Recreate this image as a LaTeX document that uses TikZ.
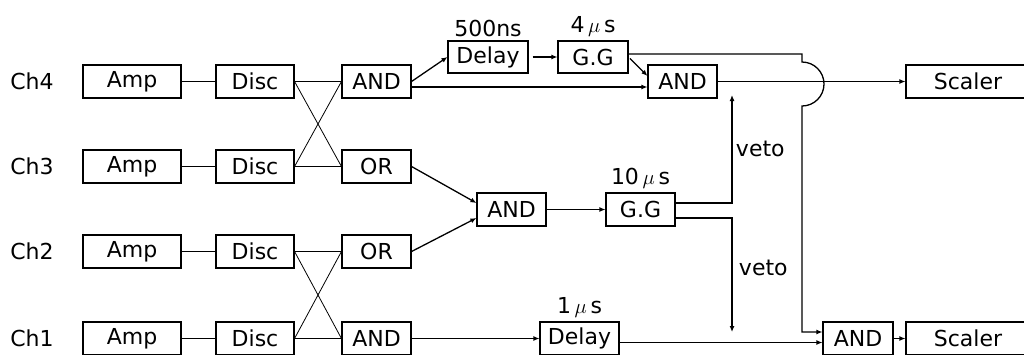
\documentclass[tikz,border=0pt]{standalone}
\usepackage{fontspec}
\setmainfont{DejaVu Sans}
\usetikzlibrary{arrows.meta,calc,positioning}

\begin{document}
\begin{tikzpicture}[x=1pt,y=-1pt,
every node/.style={font=\fontsize{22}{26}\selectfont},
box/.style={draw,line width=1.1pt,minimum height=33pt,inner sep=0pt},
wire/.style={line width=0.8pt},
sig/.style={line width=1.3pt,-{Latex[length=6pt,width=5pt]}},
every label/.style={label distance=0pt}]
\useasboundingbox (0,0) rectangle (1024,354);
\node (C4) at (32,81.5) {Ch4};
\node (C3) at (32,166.5) {Ch3};
\node (C2) at (32,251.5) {Ch2};
\node (C1) at (32,338.5) {Ch1};
\node[box,minimum width=98pt] (Amp4) at (132,81.5) {Amp};
\node[box,minimum width=98pt] (Amp3) at (132,166.5) {Amp};
\node[box,minimum width=98pt] (Amp2) at (132,251.5) {Amp};
\node[box,minimum width=98pt] (Amp1) at (132,338.5) {Amp};
\node[box,minimum width=78pt] (Disc4) at (255,81.5) {Disc};
\node[box,minimum width=78pt] (Disc3) at (255,166.5) {Disc};
\node[box,minimum width=78pt] (Disc2) at (255,251.5) {Disc};
\node[box,minimum width=78pt] (Disc1) at (255,338.5) {Disc};
\node[box,minimum width=69pt] (And4) at (376.5,81.5) {AND};
\node[box,minimum width=69pt] (Or3) at (376.5,166.5) {OR};
\node[box,minimum width=69pt] (Or2) at (376.5,251.5) {OR};
\node[box,minimum width=69pt] (And1) at (376.5,338.5) {AND};
\node[box,minimum width=80pt,minimum height=32pt,label=above:500ns] (Dl4) at (488,57) {Delay};
\node[box,minimum width=70pt,minimum height=32pt,label=above:{4\,$\mu$\,s}] (Gg4) at (593,57) {G.G};
\node[box,minimum width=69pt] (AndU) at (682.5,81.5) {AND};
\node[box,minimum width=124pt] (ScU) at (968,81.5) {Scaler};
\node[box,minimum width=69pt] (AndM) at (511.5,209.5) {AND};
\node[box,minimum width=69pt,label=above:{10\,$\mu$\,s}] (GgM) at (640.5,209.5) {G.G};
\node[box,minimum width=79pt,label=above:{1\,$\mu$\,s}] (Dl1) at (579.5,338.5) {Delay};
\node[box,minimum width=70pt] (AndB) at (858,338.5) {AND};
\node[box,minimum width=124pt] (ScB) at (968,338.5) {Scaler};
\coordinate (J1) at (802,54);
\coordinate (J2) at (802,62);
\coordinate (J3) at (802,332);
\coordinate (V1) at (732,95);
\coordinate (V2) at (732,332);
\draw[wire] (Amp4)--(Disc4) (Amp3)--(Disc3) (Amp2)--(Disc2) (Amp1)--(Disc1);
\draw[wire] (Disc4.east)--(And4.west) (Disc4.east)--(Or3.west);
\draw[wire] (Disc3.east)--(And4.west) (Disc3.east)--(Or3.west);
\draw[wire] (Disc2.east)--(Or2.west) (Disc2.east)--(And1.west);
\draw[wire] (Disc1.east)--(Or2.west) (Disc1.east)--(And1.west);
\draw[sig] (And4.east)--(Dl4.west);
\draw[sig,shorten <=4pt] (Dl4)--(Gg4);
\draw[sig,shorten <=2pt] (Gg4.east)--(AndU.171);
\draw[sig] ([yshift=-5.5pt]And4.east)--([yshift=-5.5pt]AndU.west);
\draw[sig] (AndU)--(ScU);
\draw[sig] ([yshift=3pt]Gg4.east)--(J1)--(J2) arc[start angle=90,end angle=-90,radius=22pt]--(J3)--([yshift=6.5pt]AndB.west);
\draw[sig] (Or3.east)--([yshift=6.5pt]AndM.west);
\draw[sig] (Or2.east)--([yshift=-8.5pt]AndM.west);
\draw[sig] (AndM)--(GgM);
\draw[sig] ([yshift=6.5pt]GgM.east) -| (V1) node[right,pos=0.75] {veto};
\draw[sig] ([yshift=-8.5pt]GgM.east) -| (V2) node[right,pos=0.72,xshift=3pt] {veto};
\draw[sig] (And1.east)--(Dl1.west);
\draw[sig] ([yshift=-4pt]Dl1.east)--([yshift=-4pt]AndB.west);
\draw[sig] (AndB)--(ScB);
\end{tikzpicture}
\end{document}
